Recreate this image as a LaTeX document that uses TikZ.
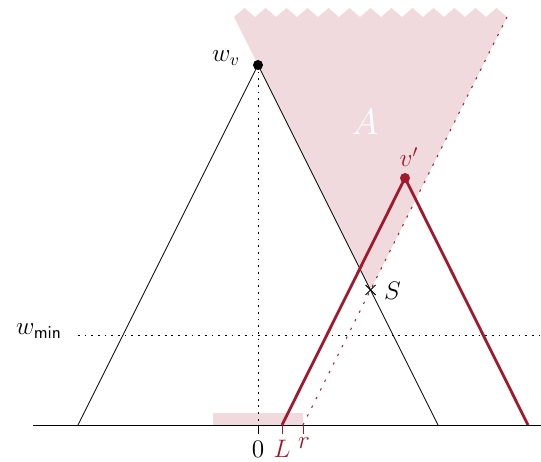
\documentclass[tikz,border=0pt]{standalone}
\usepackage{amsmath,amssymb}
\usepackage{tikz}
\usetikzlibrary{calc}
\definecolor{treered}{RGB}{160,25,45}
\definecolor{conepink}{RGB}{240,218,222}

\begin{document}
\begin{tikzpicture}[x=0.02cm, y=-0.02cm, font=\Large,
    fine dots/.style={dash pattern=on 1pt off 2.8pt},
    red dots/.style={treered, semithick, dash pattern=on 1.3pt off 4.2pt}]
    \useasboundingbox (0,0) rectangle (541,462);
    % Points
    \coordinate (wv) at (258,65);
    \coordinate (o) at (258,425);
    \coordinate (bl) at (78,425);
    \coordinate (br) at (438,425);
    \coordinate (vp) at (405,178);
    \coordinate (l) at (282,425);
    \coordinate (rr) at (528,425);
    \coordinate (r) at (303,425);
    \coordinate (s) at (370.5,290);
    \coordinate (atop) at (234,17);
    \coordinate (rtop) at (507,17);
    \coordinate (axisl) at (33,425);
    \coordinate (axisr) at (541,425);
    \coordinate (wminl) at (78,335);
    \coordinate (wminr) at (541,335);

    % Region A
    \fill[conepink] (atop) \foreach \i in {1,...,13} { -- ++(10.5,-9) -- ++(10.5,9) }
        -- (rtop) -- (s) -- cycle;
    \fill[conepink] (213,413) rectangle (r);
    \node[white, font=\huge] (alabel) at (365,122) {$A$};

    % Triangle of v
    \draw (bl) -- (wv) -- (br);
    \draw[fine dots] (wv) -- (o);
    \draw[fine dots] (wminl) -- (wminr);
    \node[left, inner sep=1pt] (wmin) at (64,331) {$w_{\mathsf{min}}$};

    % Triangle of v'
    \draw[red dots] (r) -- (rtop);
    \draw[treered, line width=1.6pt] (l) -- (vp) -- (rr);

    % Axis
    \draw (axisl) -- (axisr);
    \draw (o) -- ++(0,9);
    \draw[treered] (l) -- ++(0,9) (r) -- ++(0,9);
    \node[anchor=north, inner sep=1pt] (zero) at (258,439) {$0$};
    \node[anchor=north, treered, inner sep=1pt] (llabel) at (282,438) {$L$};
    \node[anchor=north, treered, inner sep=1pt] (rlabel) at (304,435) {$r$};

    % Apexes
    \fill (wv) circle (5);
    \fill[treered] (vp) circle (5);
    \node[left, inner sep=1pt] (wvlabel) at (242,58) {$w_v$};
    \node[treered] (vplabel) at (409,157) {$v'$};

    % S
    \draw[semithick] (s) ++(-5,-5) -- ++(10,10) (s) ++(-5,5) -- ++(10,-10);
    \node[right, inner sep=1pt] (slabel) at (382,291) {$S$};
\end{tikzpicture}
\end{document}
